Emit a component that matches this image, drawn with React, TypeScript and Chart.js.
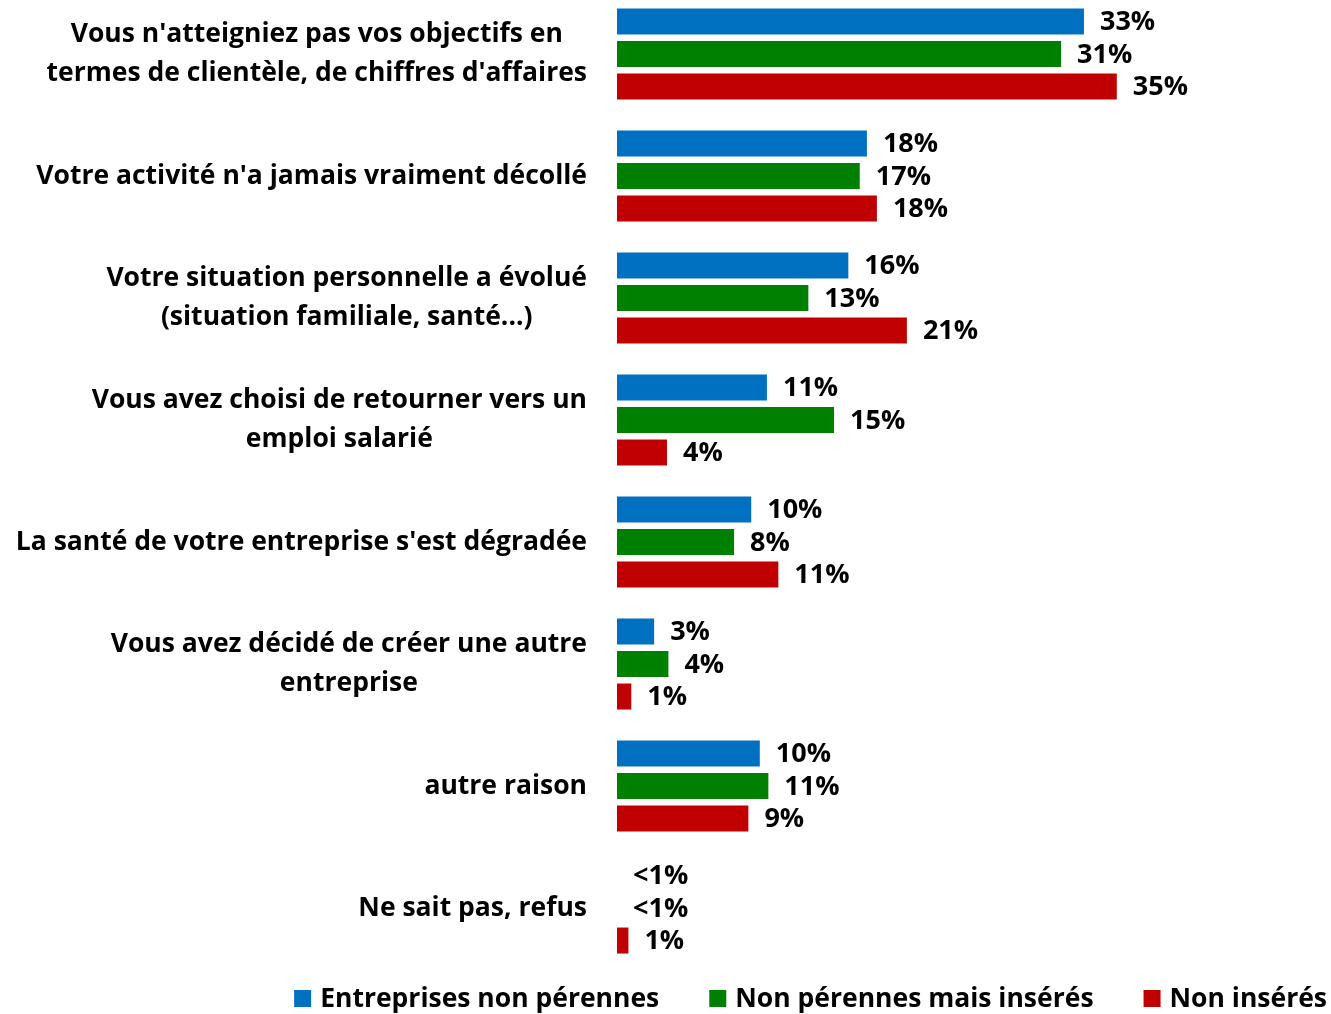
import React, { useEffect, useRef } from "react";
import { Chart, registerables } from "chart.js";

Chart.register(...registerables);

const categories: (string | string[])[] = [
  ["Vous n'atteigniez pas vos objectifs en", "termes de clientèle, de chiffres d'affaires"],
  "Votre activité n'a jamais vraiment décollé",
  ["Votre situation personnelle a évolué", "(situation familiale, santé...)"],
  ["Vous avez choisi de retourner vers un", "emploi salarié"],
  "La santé de votre entreprise s'est dégradée",
  ["Vous avez décidé de créer une autre", "entreprise"],
  "autre raison",
  "Ne sait pas, refus",
];

const seriesNames = ["Entreprises non pérennes", "Non pérennes mais insérés", "Non insérés"];
const seriesColors = ["#0070C0", "#008000", "#C00000"];

const blueValues = [32.7, 17.5, 16.2, 10.5, 9.4, 2.6, 10.0, 0];
const greenValues = [31.1, 17.0, 13.4, 15.2, 8.2, 3.6, 10.6, 0];
const redValues = [35.0, 18.2, 20.3, 3.5, 11.3, 1.0, 9.2, 0.8];

const blueLabels = ["33%", "18%", "16%", "11%", "10%", "3%", "10%", "<1%"];
const greenLabels = ["31%", "17%", "13%", "15%", "8%", "4%", "11%", "<1%"];
const redLabels = ["35%", "18%", "21%", "4%", "11%", "1%", "9%", "1%"];

const FONT = "'Open Sans'";
const AXIS_FONT_SIZE = 26.5;
const AXIS_LINE_HEIGHT = 39;
const AXIS_LABEL_RIGHT = 587;

const categoryLabelPlugin = {
  id: "categoryLabels",
  afterDraw(chart: any) {
    const ctx = chart.ctx;
    const scale = chart.scales.y;
    ctx.save();
    ctx.font = `bold ${AXIS_FONT_SIZE}px ${FONT}`;
    ctx.fillStyle = "#000";
    ctx.textAlign = "center";
    ctx.textBaseline = "middle";
    (chart.data.labels as any[]).forEach((lab: any, i: number) => {
      const lines: string[] = Array.isArray(lab) ? lab : [lab];
      const widest = Math.max(...lines.map((l) => ctx.measureText(l).width));
      const cx = AXIS_LABEL_RIGHT - widest / 2;
      const cy = scale.getPixelForTick(i);
      const y0 = cy - ((lines.length - 1) * AXIS_LINE_HEIGHT) / 2;
      lines.forEach((l, k) => ctx.fillText(l, cx, y0 + k * AXIS_LINE_HEIGHT));
    });
    ctx.restore();
  },
};

const valueLabelPlugin = {
  id: "valueLabels",
  afterDatasetsDraw(chart: any) {
    const ctx = chart.ctx;
    const allLabels = [blueLabels, greenLabels, redLabels];
    ctx.save();
    ctx.font = `bold 27px ${FONT}`;
    ctx.fillStyle = "#000";
    ctx.textAlign = "left";
    ctx.textBaseline = "middle";
    chart.data.datasets.forEach((_ds: any, di: number) => {
      const meta = chart.getDatasetMeta(di);
      meta.data.forEach((bar: any, i: number) => {
        const base = chart.scales.x.getPixelForValue(0);
        const end = Math.max(bar.x, base);
        ctx.fillText(allLabels[di][i], end + 16, bar.y + 1);
      });
    });
    ctx.restore();
  },
};

const legendPlugin = {
  id: "customLegend",
  afterDraw(chart: any) {
    const ctx = chart.ctx;
    ctx.save();
    ctx.font = `bold 26.5px ${FONT}`;
    ctx.textBaseline = "middle";
    ctx.textAlign = "left";
    const y = 1005;
    const box = 17;
    let cursor = 1327;
    const ds = chart.data.datasets;
    for (let i = ds.length - 1; i >= 0; i--) {
      const text = ds[i].label;
      const w = ctx.measureText(text).width;
      const tx = cursor - w;
      ctx.fillStyle = "#000";
      ctx.fillText(text, tx, y + 1);
      const bx = tx - 9 - box;
      ctx.fillStyle = ds[i].backgroundColor;
      ctx.fillRect(bx, y - 8, box, box);
      cursor = bx - 50;
    }
    ctx.restore();
  },
};

export default function App() {
  const ref = useRef<HTMLCanvasElement | null>(null);
  useEffect(() => {
    if (!ref.current) return;
    const chart = new Chart(ref.current, {
      type: "bar",
      data: {
        labels: categories,
        datasets: [
          { label: seriesNames[0], data: blueValues, backgroundColor: seriesColors[0] },
          { label: seriesNames[1], data: greenValues, backgroundColor: seriesColors[1] },
          { label: seriesNames[2], data: redValues, backgroundColor: seriesColors[2] },
        ],
      },
      options: {
        indexAxis: "y",
        responsive: false,
        animation: false,
        layout: { padding: { left: 0, right: 0, top: 0, bottom: 45 } },
        datasets: { bar: { categoryPercentage: 0.8, barPercentage: 0.8 } },
        plugins: { legend: { display: false }, tooltip: { enabled: false } },
        scales: {
          x: { display: false, min: 0, max: 50 },
          y: {
            grid: { display: false, drawTicks: false },
            border: { display: false },
            ticks: { display: false },
            afterFit(scale: any) {
              scale.width = 617;
              scale.paddingTop = 0;
              scale.paddingBottom = 0;
            },
          },
        },
      },
      plugins: [valueLabelPlugin, categoryLabelPlugin, legendPlugin],
    } as any);
    return () => chart.destroy();
  }, []);
  return (
    <div style={{ position: "absolute", left: 0, top: -7, width: 1331, height: 1021 }}>
      <canvas ref={ref} width={1331} height={1021} style={{ width: 1331, height: 1021 }} />
    </div>
  );
}
